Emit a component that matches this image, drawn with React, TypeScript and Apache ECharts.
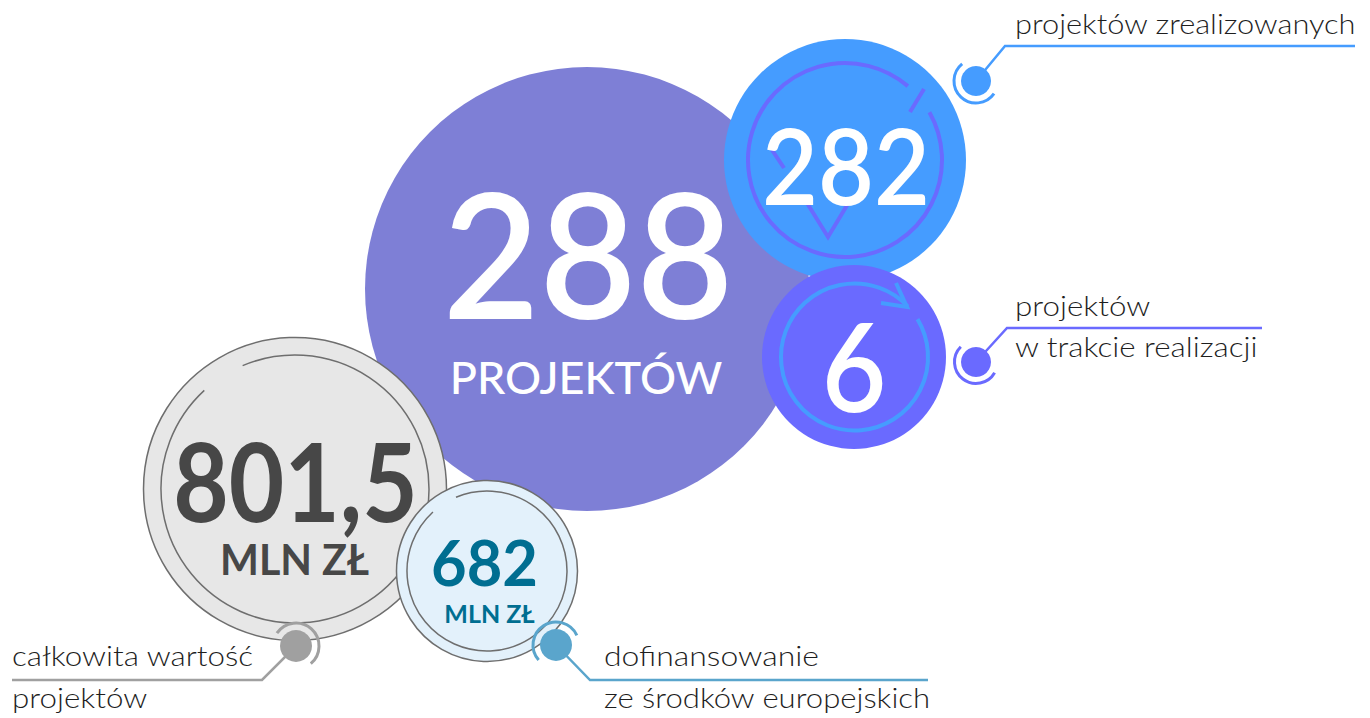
import React, { useEffect, useRef } from "react";
import * as echarts from "echarts";

const headlineValues = ["288", "282", "6", "801,5", "682"];
const unitLabels = ["PROJEKTÓW", "MLN ZŁ", "MLN ZŁ"];
const calloutLabels: string[][] = [
  ["projektów zrealizowanych"],
  ["projektów", "w trakcie realizacji"],
  ["całkowita wartość", "projektów"],
  ["dofinansowanie", "ze środków europejskich"],
];

const FONT = "Lato, 'Open Sans', sans-serif";
const deg = (d: number) => (d * Math.PI) / 180;

function circle(cx: number, cy: number, r: number, fill: string, stroke?: string, lw = 0) {
  return {
    type: "circle",
    shape: { cx, cy, r },
    style: { fill, stroke: stroke || null, lineWidth: lw },
  };
}
function arc(cx: number, cy: number, r: number, a0: number, a1: number, stroke: string, lw: number) {
  return {
    type: "arc",
    shape: { cx, cy, r, startAngle: deg(a0), endAngle: deg(a1), clockwise: true },
    style: { stroke, lineWidth: lw, fill: null },
  };
}
function pline(points: number[][], stroke: string, lw: number) {
  return {
    type: "polyline",
    shape: { points },
    style: { stroke, lineWidth: lw, fill: null, lineJoin: "miter" },
  };
}
function text(
  x: number,
  y: number,
  t: string,
  size: number,
  weight: number | string,
  fill: string,
  align = "center",
  scaleX = 1
) {
  return {
    type: "text",
    x,
    y,
    scaleX,
    style: {
      text: t,
      fill,
      fontSize: size,
      fontWeight: weight,
      fontFamily: FONT,
      textAlign: align,
      textVerticalAlign: "middle",
    },
  };
}

const PURPLE = "#7e7fd6";
const BLUE = "#459cff";
const VIOLET = "#6a6aff";
const GRAY_FILL = "#e7e7e7";
const GRAY_STROKE = "#6e6e6e";
const LIGHT = "#e3f1fb";
const TEAL = "#5aa5cc";
const DOT_GRAY = "#a0a0a0";
const LABEL = "#1e1e1e";
const LABEL_SIZE = 28;
const LABEL_SCALE = 1.12;

export default function App() {
  const ref = useRef<HTMLDivElement>(null);
  useEffect(() => {
    if (!ref.current) return;
    const chart = echarts.init(ref.current, null, { renderer: "svg" });
    const g: any[] = [];

    // big purple circle
    g.push(circle(587, 289, 222, PURPLE));
    g.push(text(588, 252, headlineValues[0], 174, 600, "#ffffff", "center", 0.96));
    g.push(text(586, 377, unitLabels[0], 45, 500, "#ffffff"));

    // blue 282 circle
    g.push(circle(845, 160, 121, BLUE));
    g.push(arc(845, 160, 97, -29.5, 310.4, VIOLET, 4));
    g.push(pline([[924, 89], [910, 112]], VIOLET, 4));
    g.push(pline([[772, 150], [784, 168]], VIOLET, 4));
    g.push(pline([[807, 203], [828, 237], [849, 202]], VIOLET, 4));
    g.push(text(846, 164, headlineValues[1], 106, 600, "#ffffff", "center", 0.91));

    // violet 6 circle
    g.push(circle(854, 357, 92, VIOLET));
    g.push(arc(854.5, 357, 73.5, -31, 316.4, BLUE, 4));
    g.push(pline([[881, 303], [907, 307], [896, 283]], BLUE, 4));
    g.push(text(854, 364, headlineValues[2], 124, 600, "#ffffff", "center", 0.9));

    // gray circle
    g.push(circle(295, 489, 151.5, GRAY_FILL, GRAY_STROKE, 1.5));
    g.push(arc(295, 489, 134, 247, 587.4, GRAY_STROKE, 1.5));
    g.push(text(295.5, 479, headlineValues[3], 110, 700, "#474747", "center", 0.87));
    g.push(text(294.5, 559, unitLabels[1], 42, 700, "#474747", "center", 0.98));

    // light blue circle
    g.push(circle(487, 571, 90.5, LIGHT, GRAY_STROKE, 1.5));
    g.push(arc(487, 571, 80, 247.2, 587.5, GRAY_STROKE, 1.5));
    g.push(text(484.5, 561, headlineValues[4], 64, 700, "#006e91", "center", 0.96));
    g.push(text(489.5, 613, unitLabels[2], 25, 700, "#006e91"));

    // callouts
    g.push(pline([[976, 81], [1005, 46], [1355, 46]], BLUE, 2.5));
    g.push(circle(976, 81, 15, BLUE));
    g.push(arc(976, 81, 22, 35, 231, BLUE, 3));

    g.push(pline([[976, 362], [1007, 328], [1262, 328]], VIOLET, 2.5));
    g.push(circle(976, 362, 15, VIOLET));
    g.push(arc(976, 362, 21.5, 30, 225, VIOLET, 3));

    g.push(pline([[296, 646], [262, 680], [12, 680]], DOT_GRAY, 2.5));
    g.push(circle(296, 646, 16, DOT_GRAY));
    g.push(arc(296, 646, 23, -146, 50, DOT_GRAY, 3));

    g.push(pline([[556, 645], [590, 680], [928, 680]], TEAL, 2.5));
    g.push(circle(556, 645, 16, TEAL));
    g.push(arc(556, 645, 23, 139, 335, TEAL, 3));

    // callout labels
    const lbl = (x: number, y: number, t: string, s = LABEL_SCALE) =>
      text(x, y, t, LABEL_SIZE, 300, LABEL, "left", s);
    g.push(lbl(1015, 23, calloutLabels[0][0], 1.1));
    g.push(lbl(1015, 305, calloutLabels[1][0]));
    g.push(lbl(1015, 346, calloutLabels[1][1]));
    g.push(lbl(12, 655, calloutLabels[2][0]));
    g.push(lbl(12, 697, calloutLabels[2][1]));
    g.push(lbl(604, 655, calloutLabels[3][0], 1.14));
    g.push(lbl(604, 697, calloutLabels[3][1], 1.11));

    chart.setOption({
      animation: false,
      backgroundColor: "#ffffff",
      graphic: { elements: g },
    });
    return () => chart.dispose();
  }, []);
  return (
    <div
      ref={ref}
      style={{ position: "absolute", left: 0, top: 0, width: 1370, height: 718 }}
    />
  );
}
